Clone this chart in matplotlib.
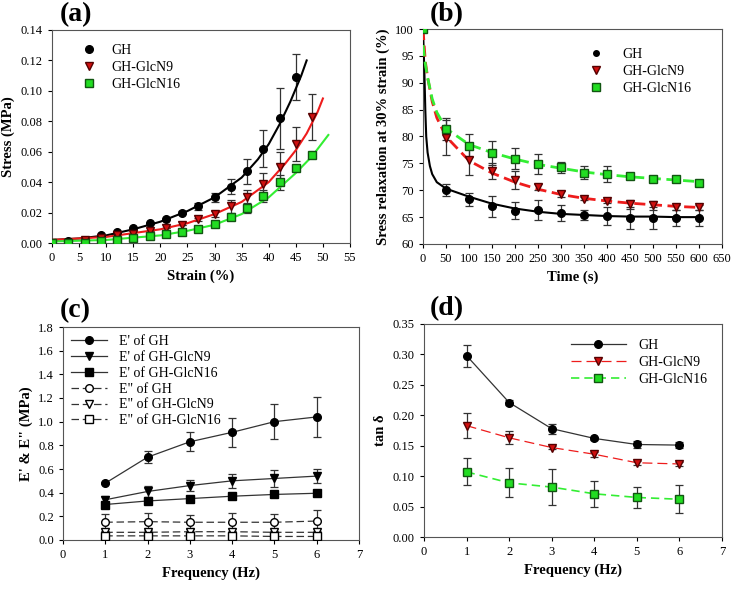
import numpy as np
import matplotlib.pyplot as plt

plt.rcParams['font.family'] = ['Liberation Serif', 'DejaVu Serif']
plt.rcParams['font.size'] = 9

# --- (a) stress-strain ---
strain = [0, 3, 6, 9, 12, 15, 18, 21, 24, 27, 30, 33, 36, 39, 42, 45, 48]
a_gh = [0.000, 0.001, 0.002, 0.005, 0.0075, 0.010, 0.013, 0.016, 0.020, 0.024, 0.030, 0.037, 0.047, 0.062, 0.082, 0.109]
a_gh_err = [0, 0, 0, 0, 0, 0, 0, 0, 0.001, 0.002, 0.003, 0.005, 0.008, 0.012, 0.020, 0.015]
a_n9 = [0.000, 0.000, 0.002, 0.003, 0.005, 0.006, 0.008, 0.010, 0.012, 0.0155, 0.019, 0.024, 0.030, 0.039, 0.050, 0.065, 0.083]
a_n9_err = [0, 0, 0, 0, 0, 0, 0, 0, 0, 0.001, 0.002, 0.004, 0.005, 0.007, 0.010, 0.011, 0.015]
a_n16 = [0.000, 0.000, 0.000, 0.001, 0.002, 0.003, 0.0045, 0.006, 0.007, 0.0095, 0.0125, 0.017, 0.023, 0.031, 0.040, 0.049, 0.058]
a_n16_err = [0, 0, 0, 0, 0, 0, 0, 0, 0, 0, 0.001, 0.001, 0.003, 0.004, 0.005, 0.001, 0.001]

fit_a_gh_x = [0, 5, 10, 15, 20, 25, 30, 35, 38, 40, 42, 44, 46, 47]
fit_a_gh_y = [0.002, 0.003, 0.005, 0.009, 0.014, 0.021, 0.030, 0.043, 0.055, 0.065, 0.078, 0.093, 0.110, 0.120]
fit_a_n9_x = [0, 10, 20, 25, 30, 35, 40, 43, 45, 47, 49, 50]
fit_a_n9_y = [0.002, 0.004, 0.009, 0.013, 0.019, 0.027, 0.040, 0.052, 0.061, 0.072, 0.086, 0.095]
fit_a_n16_x = [0, 10, 20, 25, 30, 35, 40, 45, 48, 51]
fit_a_n16_y = [0.001, 0.002, 0.005, 0.008, 0.012, 0.019, 0.030, 0.046, 0.057, 0.071]

# --- (b) stress relaxation ---
time = [0, 50, 100, 150, 200, 250, 300, 350, 400, 450, 500, 550, 600]
b_gh = [100, 70.0, 68.3, 67.0, 66.2, 66.3, 65.7, 65.4, 65.2, 64.8, 64.8, 64.8, 64.8]
b_gh_err = [0, 1.1, 1.2, 1.9, 1.6, 1.9, 1.5, 1.0, 1.6, 2.0, 2.0, 1.5, 1.5]
b_n9 = [100, 79.8, 75.6, 73.6, 71.9, 70.6, 69.3, 68.4, 68.0, 67.4, 67.2, 66.8, 66.8]
b_n9_err = [0, 3.3, 2.7, 1.5, 1.6, 0.5, 0.5, 0.3, 0.3, 0.8, 0.8, 0.5, 0.5]
b_n16 = [100, 81.4, 78.3, 76.9, 75.9, 74.9, 74.3, 73.3, 73.0, 72.6, 72.1, 72.0, 71.3]
b_n16_err = [0, 2.0, 2.2, 2.2, 1.9, 1.9, 1.0, 1.2, 1.5, 0.3, 0.3, 0.3, 0.2]

fit_b_gh_x = [0, 3, 5, 7, 10, 15, 20, 30, 50, 100, 150, 200, 250, 300, 350, 400, 450, 500, 550, 600]
fit_b_gh_y = [100, 92, 85, 80, 77, 74.5, 73, 71.5, 70.3, 68.8, 67.5, 66.6, 66.0, 65.6, 65.4, 65.2, 65.1, 65.1, 65.0, 65.0]
fit_b_n9_x = [0, 5, 10, 20, 30, 50, 100, 150, 200, 250, 300, 350, 400, 450, 500, 550, 600]
fit_b_n9_y = [100, 94, 91, 86.5, 83.5, 80, 75.5, 73.2, 71.5, 70.2, 69.2, 68.5, 68.0, 67.6, 67.3, 67.0, 66.8]
fit_b_n16_x = [0, 5, 10, 20, 30, 50, 100, 150, 200, 250, 300, 350, 400, 450, 500, 550, 600]
fit_b_n16_y = [97, 93.5, 91, 87, 84.5, 81.5, 78.5, 77.0, 75.8, 74.8, 74.1, 73.4, 72.9, 72.5, 72.2, 71.9, 71.6]

# --- (c) E' and E'' ---
freq = [1, 2, 3, 4, 5, 6]
e1_gh = [0.48, 0.70, 0.83, 0.91, 1.00, 1.04]
e1_gh_err = [0.01, 0.05, 0.08, 0.12, 0.15, 0.17]
e1_n9 = [0.34, 0.41, 0.46, 0.50, 0.52, 0.54]
e1_n9_err = [0.03, 0.05, 0.05, 0.06, 0.07, 0.06]
e1_n16 = [0.30, 0.33, 0.35, 0.37, 0.385, 0.395]
e1_n16_err = [0.02, 0.02, 0.02, 0.02, 0.01, 0.02]
e2_gh = [0.15, 0.155, 0.15, 0.15, 0.15, 0.16]
e2_gh_err = [0.07, 0.07, 0.06, 0.08, 0.07, 0.09]
e2_n9 = [0.065, 0.065, 0.07, 0.07, 0.065, 0.065]
e2_n9_err = [0.01, 0.01, 0.01, 0.01, 0.01, 0.01]
e2_n16 = [0.035, 0.035, 0.035, 0.035, 0.03, 0.03]
e2_n16_err = [0.01, 0.01, 0.01, 0.01, 0.01, 0.01]

# --- (d) tan delta ---
tan_gh = [0.298, 0.221, 0.178, 0.162, 0.152, 0.151]
tan_gh_err = [0.018, 0.004, 0.008, 0.003, 0.005, 0.005]
tan_n9 = [0.183, 0.163, 0.147, 0.136, 0.122, 0.120]
tan_n9_err = [0.020, 0.011, 0.003, 0.004, 0.003, 0.003]
tan_n16 = [0.107, 0.089, 0.082, 0.071, 0.065, 0.062]
tan_n16_err = [0.022, 0.024, 0.029, 0.021, 0.017, 0.023]

RED = '#d01010'
GREEN = '#22dd22'
RED_LINE = '#ee1c1c'
GREEN_LINE = '#33ee33'
ERR = '#333333'
MS = 5.5

fig = plt.figure(figsize=(7.33, 5.90), dpi=100)
W, H = 733, 590


def add_ax(x0, y0, x1, y1):
    return fig.add_axes([x0 / W, 1 - y1 / H, (x1 - x0) / W, (y1 - y0) / H])


def style(ax):
    ax.tick_params(direction='out', length=3, width=0.8, top=False, right=False, labelsize=9)
    for s in ax.spines.values():
        s.set_linewidth(0.8)
        s.set_color('#555555')


def ebar(ax, x, y, e):
    ax.errorbar(x, y, yerr=e, fmt='none', ecolor=ERR, elinewidth=0.9, capsize=3, capthick=0.9, zorder=2)


ax1 = add_ax(52, 30, 350, 243)
ax2 = add_ax(423, 29, 722, 244)
ax3 = add_ax(63, 327, 359, 540)
ax4 = add_ax(424, 324, 722, 537)

# (a)
ax = ax1
ax.plot(fit_a_gh_x, fit_a_gh_y, color='black', lw=1.5, zorder=3)
ax.plot(fit_a_n9_x, fit_a_n9_y, color=RED_LINE, lw=1.5, zorder=3)
ax.plot(fit_a_n16_x, fit_a_n16_y, color=GREEN_LINE, lw=1.5, zorder=3)
ebar(ax, strain[:16], a_gh, a_gh_err)
ebar(ax, strain, a_n9, a_n9_err)
ebar(ax, strain, a_n16, a_n16_err)
ax.plot(strain[:16], a_gh, 'o', color='black', ms=MS, ls='none', label='GH', zorder=4)
ax.plot(strain, a_n9, 'v', mfc=RED, mec='#550000', ms=MS + 0.5, ls='none', label='GH-GlcN9', zorder=4)
ax.plot(strain, a_n16, 's', mfc=GREEN, mec='#115511', ms=MS, ls='none', label='GH-GlcN16', zorder=4)
ax.set_xlim(0, 55)
ax.set_ylim(0, 0.14)
ax.set_xticks(np.arange(0, 56, 5))
ax.set_yticks(np.arange(0, 0.141, 0.02))
ax.yaxis.set_major_formatter(plt.FormatStrFormatter('%.2f'))
ax.set_xlabel('Strain (%)', fontweight='bold', fontsize=10.5)
ax.set_ylabel('Stress (MPa)', fontweight='bold', fontsize=10.5)
ax.legend(loc='upper left', frameon=False, fontsize=10, handletextpad=0.6, labelspacing=0.3,
          borderaxespad=0.6, bbox_to_anchor=(0.03, 1.0))
style(ax)

# (b)
ax = ax2
ax.plot(fit_b_gh_x, fit_b_gh_y, color='black', lw=1.5, zorder=3)
ax.plot(fit_b_n9_x, fit_b_n9_y, color=RED_LINE, lw=2, ls=(0, (4, 2)), zorder=3)
ax.plot(fit_b_n16_x, fit_b_n16_y, color=GREEN_LINE, lw=2, ls=(0, (4, 2)), zorder=3)
ebar(ax, time, b_gh, b_gh_err)
ebar(ax, time, b_n9, b_n9_err)
ebar(ax, time, b_n16, b_n16_err)
ax.plot(time[1:], b_gh[1:], 'o', color='black', ms=MS, ls='none', zorder=4)
ax.plot([], [], 'o', color='black', ms=4, ls='none', label='GH')
ax.plot(time, b_n9, 'v', mfc=RED, mec='#550000', ms=MS + 0.5, ls='none', label='GH-GlcN9', zorder=4)
ax.plot(time, b_n16, 's', mfc=GREEN, mec='#115511', ms=MS, ls='none', label='GH-GlcN16', zorder=5)
ax.set_xlim(0, 650)
ax.set_ylim(60, 100)
ax.set_xticks(np.arange(0, 651, 50))
ax.set_yticks(np.arange(60, 101, 5))
ax.set_xlabel('Time (s)', fontweight='bold', fontsize=10.5)
ax.set_ylabel('Sress relaxation at 30% strain (%)', fontweight='bold', fontsize=10.5)
ax.legend(loc='upper left', frameon=False, fontsize=10, handletextpad=0.9, labelspacing=0.3,
          bbox_to_anchor=(0.49, 0.97))
style(ax)

# (c)
for y, e, m, fill, ls, lab in [
        (e1_gh, e1_gh_err, 'o', 'black', '-', "E' of GH"),
        (e1_n9, e1_n9_err, 'v', 'black', '-', "E' of GH-GlcN9"),
        (e1_n16, e1_n16_err, 's', 'black', '-', "E' of GH-GlcN16"),
        (e2_gh, e2_gh_err, 'o', 'white', (0, (6, 3)), 'E" of GH'),
        (e2_n9, e2_n9_err, 'v', 'white', (0, (6, 3)), 'E" of GH-GlcN9'),
        (e2_n16, e2_n16_err, 's', 'white', (0, (6, 3)), 'E" of GH-GlcN16')]:
    ebar(ax3, freq, y, e)
    ax3.plot(freq, y, marker=m, mfc=fill, mec='black', ms=MS, color='#333333', lw=0.9, ls=ls,
             label=lab, zorder=3)
ax = ax3
ax.set_xlim(0, 7)
ax.set_ylim(0, 1.8)
ax.set_xticks(range(0, 8))
ax.set_yticks(np.arange(0, 1.81, 0.2))
ax.yaxis.set_major_formatter(plt.FormatStrFormatter('%.1f'))
ax.set_xlabel('Frequency (Hz)', fontweight='bold', fontsize=10.5)
ax.set_ylabel('E\' & E" (MPa)', fontweight='bold', fontsize=10.5)
ax.legend(loc='upper left', frameon=False, fontsize=10, handlelength=2.6, labelspacing=0.2,
          handletextpad=0.8, borderaxespad=0.2)
style(ax)

# (d)
ax = ax4
ebar(ax, freq, tan_gh, tan_gh_err)
ebar(ax, freq, tan_n9, tan_n9_err)
ebar(ax, freq, tan_n16, tan_n16_err)
ax.plot(freq, tan_gh, marker='o', color='#333333', mfc='black', mec='black', ms=MS, lw=0.9,
        label='GH', zorder=3)
ax.plot(freq, tan_n9, marker='v', color=RED_LINE, mfc=RED, mec='#550000', ms=MS + 0.5, lw=0.9,
        ls=(0, (8, 4)), label='GH-GlcN9', zorder=3)
ax.plot(freq, tan_n16, marker='s', color=GREEN_LINE, mfc=GREEN, mec='#115511', ms=MS, lw=1.2,
        ls=(0, (5, 3)), label='GH-GlcN16', zorder=3)
ax.set_xlim(0, 7)
ax.set_ylim(0, 0.35)
ax.set_xticks(range(0, 8))
ax.set_yticks(np.arange(0, 0.351, 0.05))
ax.yaxis.set_major_formatter(plt.FormatStrFormatter('%.2f'))
ax.set_xlabel('Frequency (Hz)', fontweight='bold', fontsize=10.5)
ax.set_ylabel('tan δ', fontweight='bold', fontsize=10.5)
ax.legend(loc='upper left', frameon=False, fontsize=10, handlelength=4, handletextpad=0.9,
          labelspacing=0.3, bbox_to_anchor=(0.45, 0.99))
style(ax)

# panel labels
for lab, x, y in [('(a)', 60, 15), ('(b)', 430, 15), ('(c)', 60, 311), ('(d)', 430, 309)]:
    fig.text(x / W, 1 - y / H, lab, fontsize=20, fontweight='bold', va='center', ha='left')

fig.savefig('out.png', dpi=100)
